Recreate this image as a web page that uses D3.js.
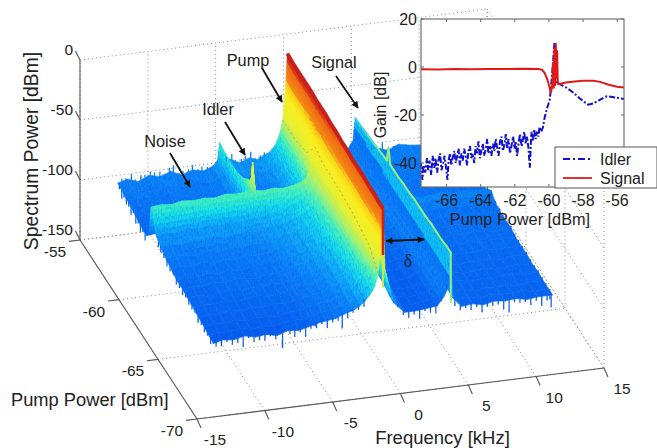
<!DOCTYPE html>
<html lang="en">
<head>
<meta charset="UTF-8">
<title>Spectrum power vs pump power</title>
<script src="https://cdn.jsdelivr.net/npm/d3@7/dist/d3.min.js"></script>
<style>
body{margin:0;background:#fff}
text{font-family:"Liberation Sans",Arial,sans-serif;fill:#222}
</style>
</head>
<body>
<svg id="chart" width="657" height="448"></svg>
<script>
// surface axes
var freqTicks=[-15,-10,-5,0,5,10,15];
var pumpTicks=[-70,-65,-60,-55];
var powerTicks=[-150,-100,-50,0];

// surface samples (dBm), back row first
var freqs=[-12.5,-11.8,-11,-10.2,-9.4,-8.6,-7.8,-7,-6.2,-5.5,-5.15,-5,-4.85,-4.2,-3.5,-2.8,-2.2,-1.7,-1.3,-0.9,-0.6,-0.35,-0.15,0,0.15,0.8,1.6,2.4,3.2,4,4.5,4.85,5,5.15,5.8,6.6,7.4,8.2,9,9.8,10.6,11.4,12.5];
var pumps=[-55.5,-56.3,-57.1,-57.9,-58.6,-59.2,-59.55,-59.75,-60,-60.4,-61,-61.7,-62.4,-63.1,-63.8,-64.5,-65.2,-65.9,-66.6,-67.2,-67.75];
var power=[
[-101,-99,-102,-98,-100,-97,-101,-98,-100,-97,-93,-78,-90,-93,-97,-94,-96,-93,-91,-86,-78,-66,-41,-11,-55,-90,-97,-100,-98,-100,-96,-90,-72,-94,-101,-99,-102,-98,-100,-101,-99,-102,-100],
[-103,-100,-102,-104,-100,-101,-103,-99,-102,-99,-95,-80,-94,-97,-100,-98,-98,-95,-92,-86,-78,-66,-42,-12,-56,-92,-99,-102,-100,-100,-96,-90,-71,-95,-103,-100,-103,-101,-102,-99,-103,-101,-102],
[-104,-106,-102,-104,-105,-101,-105,-103,-104,-100,-96,-81,-95,-100,-101,-100,-99,-96,-92,-86,-78,-66,-42,-12,-56,-92,-100,-103,-101,-101,-96,-90,-70,-96,-104,-102,-104,-101,-104,-103,-101,-104,-102],
[-106,-104,-107,-105,-103,-106,-104,-106,-105,-100,-95,-80,-95,-101,-103,-101,-100,-97,-92,-86,-77,-64,-41,-12,-55,-92,-101,-104,-102,-101,-96,-90,-69,-96,-105,-103,-105,-102,-104,-106,-103,-104,-105],
[-108,-106,-108,-105,-107,-105,-108,-106,-104,-99,-93,-77,-94,-102,-103,-102,-100,-97,-91,-85,-75,-62,-40,-12,-54,-91,-101,-104,-103,-101,-96,-89,-68,-96,-105,-104,-106,-103,-105,-104,-106,-105,-104],
[-108,-107,-105,-108,-106,-107,-104,-106,-105,-98,-90,-72,-92,-100,-102,-100,-98,-95,-90,-84,-72,-54,-35,-13,-52,-90,-100,-104,-103,-101,-95,-89,-67,-96,-105,-103,-106,-104,-105,-106,-104,-106,-105],
[-100,-101,-99,-100,-98,-99,-97,-98,-96,-92,-86,-70,-90,-92,-91,-89,-88,-85,-82,-74,-63,-48,-31,-13,-50,-88,-98,-103,-102,-100,-95,-88,-67,-95,-102,-100,-102,-100,-102,-103,-101,-102,-102],
[-79,-78,-79,-77,-78,-77,-78,-76,-77,-76,-76,-52,-76,-77,-76,-77,-76,-75,-73,-69,-61,-47,-30,-13,-48,-86,-96,-102,-102,-100,-95,-88,-54,-93,-98,-97,-99,-98,-97,-99,-98,-99,-100],
[-82,-83,-81,-82,-80,-81,-79,-80,-79,-79,-78,-76,-78,-78,-77,-78,-77,-76,-74,-70,-62,-48,-30,-13,-48,-87,-97,-102,-102,-100,-95,-88,-66,-94,-100,-99,-101,-99,-100,-101,-100,-101,-100],
[-96,-95,-96,-94,-95,-93,-94,-93,-93,-92,-92,-90,-92,-90,-88,-86,-84,-81,-78,-73,-64,-50,-31,-13,-49,-88,-98,-103,-102,-100,-95,-88,-66,-96,-103,-102,-104,-103,-102,-104,-103,-105,-104],
[-100,-99,-100,-98,-99,-97,-98,-97,-96,-97,-96,-97,-95,-94,-93,-90,-88,-85,-80,-74,-65,-51,-32,-14,-50,-89,-99,-103,-102,-100,-95,-88,-66,-96,-105,-104,-106,-104,-105,-106,-104,-106,-105],
[-103,-101,-102,-103,-100,-102,-100,-101,-99,-100,-98,-99,-97,-96,-95,-92,-89,-86,-81,-75,-65,-51,-32,-14,-50,-90,-100,-104,-103,-101,-95,-88,-65,-96,-105,-104,-106,-105,-104,-106,-105,-104,-106],
[-105,-103,-104,-102,-104,-102,-103,-101,-102,-100,-101,-100,-99,-97,-96,-93,-90,-86,-82,-75,-66,-52,-33,-15,-51,-90,-101,-105,-103,-101,-95,-88,-65,-97,-106,-104,-107,-105,-106,-104,-106,-107,-105],
[-107,-105,-106,-104,-105,-103,-105,-103,-102,-103,-101,-102,-100,-98,-97,-94,-91,-88,-83,-76,-67,-52,-33,-15,-52,-91,-102,-105,-104,-102,-95,-88,-64,-97,-106,-105,-107,-106,-105,-107,-106,-105,-107],
[-107,-106,-107,-105,-106,-104,-105,-106,-103,-104,-102,-103,-101,-99,-98,-95,-93,-89,-84,-77,-67,-53,-34,-16,-53,-91,-102,-106,-105,-102,-95,-88,-64,-98,-106,-105,-107,-106,-107,-105,-107,-106,-107],
[-108,-106,-108,-107,-105,-107,-105,-106,-104,-105,-103,-104,-103,-100,-99,-97,-94,-90,-85,-78,-68,-54,-34,-16,-54,-92,-103,-106,-105,-103,-96,-88,-64,-98,-107,-105,-108,-106,-107,-106,-108,-106,-107],
[-109,-107,-108,-106,-108,-107,-105,-107,-106,-105,-104,-105,-103,-102,-100,-98,-95,-91,-87,-80,-70,-56,-35,-16,-55,-93,-104,-107,-106,-103,-96,-88,-63,-98,-107,-106,-108,-107,-106,-108,-107,-106,-108],
[-110,-108,-109,-107,-109,-107,-108,-106,-107,-106,-105,-106,-104,-103,-101,-99,-96,-92,-88,-82,-72,-58,-35,-17,-56,-94,-105,-107,-106,-104,-96,-88,-63,-99,-107,-106,-108,-107,-108,-107,-106,-108,-107],
[-111,-109,-110,-108,-110,-108,-109,-109,-107,-107,-106,-107,-105,-103,-102,-100,-98,-94,-90,-83,-74,-60,-36,-17,-58,-95,-105,-107,-106,-104,-97,-89,-63,-99,-108,-106,-109,-107,-108,-107,-109,-107,-108],
[-112,-110,-111,-109,-111,-110,-111,-109,-108,-108,-107,-108,-106,-104,-103,-101,-99,-95,-91,-85,-78,-66,-38,-18,-62,-97,-106,-107,-106,-104,-97,-89,-62,-99,-108,-107,-109,-107,-108,-108,-107,-109,-108],
[-113,-111,-112,-110,-112,-111,-113,-110,-111,-109,-108,-109,-107,-106,-105,-102,-100,-97,-93,-88,-82,-72,-40,-18,-70,-98,-107,-107,-106,-105,-98,-90,-62,-100,-108,-107,-109,-107,-108,-107,-109,-108,-108]
];

// noise teeth on the edges of the surface: where they sit and how far they reach (dB)
var frontFreqs=[-12.3,-11.9,-11.5,-11.1,-10.7,-10.3,-9.9,-9.5,-9.1,-8.7,-8.3,-7.9,-7.4,-6.85,-6.5,-6.1,-5.7,-5.3,-4.9,-4.5,-4.1,-3.7,-3.3,-3,-2.6,-2.2,-1.8,-1.4,1.1,1.5,1.9,2.3,2.7,3.1,3.5,3.9,4.3,4.7,5.3,5.7,6.1,6.5,6.9,7.3,7.7,8.1,8.5,8.9,9.3,9.7,10.1,10.5,10.9,11.3,11.7,12.1,12.4];
var frontDepths=[3,5,2,4,3,9,2,4,3,5,2,3,11,3,5,2,8,3,4,2,6,3,2,12,4,2,3,5,4,2,5,3,7,2,4,6,3,2,7,3,2,5,3,6,2,4,3,7,10,3,4,2,5,3,8,4,10];
var leftPumps=[-55.7,-56,-56.3,-56.6,-56.9,-57.2,-57.5,-57.8,-58.1,-58.4,-58.7,-59,-60.7,-61,-61.4,-61.8,-62.2,-62.6,-63,-63.4,-63.8,-64.2,-64.6,-65,-65.4,-65.8,-66.2,-66.6,-67,-67.4];
var leftDepths=[3,6,2,5,3,7,2,6,3,5,2,6,3,4,2,5,3,2,4,3,5,2,4,3,2,5,3,4,2,5];
var rightPumps=[-58.9,-59.4,-59.9,-60.4,-60.9,-61.4,-61.9,-62.4,-62.9,-63.4,-63.9,-64.4,-64.9,-65.4,-65.9,-66.4,-66.9,-67.4];
var rightDepths=[3,2,4,2,5,3,2,4,3,6,2,3,5,2,4,6,3,7];
var backFreqs=[-12.2,-11.9,-11.5,-11.2,-10.8,-10.5,-10.1,-9.8,-9.4,-9.1,-8.7,-8.4,-8,-7.7,-7.3,-7,-6.6,-6.3,-5.9,-4.5,-4.1,-3.8,-3.4,-3.1,-2.7,-2.4,-2,-1.7,6.2,6.6,7,7.4,7.8];
var backHeights=[3,1,4,2,5,1,3,2,4,1,3,5,2,3,1,4,2,4,3,2,4,1,3,2,5,1,3,2,3,1,4,2,3];

// inset: gain against pump power
var gainXTicks=[-66,-64,-62,-60,-58,-56];
var gainYTicks=[-40,-20,0,20];
var idlerPump=[-67.5,-67.42,-67.35,-67.25,-67.15,-67.08,-67,-66.9,-66.82,-66.72,-66.65,-66.55,-66.48,-66.38,-66.3,-66.2,-66.12,-66.03,-65.95,-65.88,-65.8,-65.72,-65.65,-65.55,-65.47,-65.38,-65.3,-65.22,-65.13,-65.05,-64.97,-64.88,-64.8,-64.72,-64.63,-64.55,-64.47,-64.38,-64.3,-64.22,-64.13,-64.05,-63.97,-63.88,-63.8,-63.7,-63.62,-63.55,-63.45,-63.37,-63.28,-63.2,-63.12,-63.03,-62.95,-62.87,-62.78,-62.7,-62.6,-62.53,-62.45,-62.37,-62.28,-62.2,-62.1,-62.02,-61.95,-61.87,-61.78,-61.7,-61.6,-61.52,-61.45,-61.37,-61.28,-61.2,-61.12,-61.03,-60.95,-60.87,-60.78,-60.7,-60.62,-60.55,-60.45,-60.35,-60.25,-60.1,-59.95,-59.85,-59.75,-59.68,-59.6,-59.52,-59.45,-59.2,-58.95,-58.6,-58.2,-57.95,-57.7,-57.4,-57.1,-56.8,-56.6,-56.2,-55.6];
var idlerGain=[-40,-47,-41,-44,-38,-43,-39,-45,-37,-42,-38,-44,-39,-36,-43,-40,-37,-42,-47,-39,-36,-41,-38,-35,-40,-37,-34,-41,-36,-39,-34,-37,-41,-35,-33,-38,-36,-40,-33,-36,-31,-38,-35,-32,-37,-34,-30,-36,-33,-37,-32,-35,-30,-34,-37,-31,-29,-35,-32,-28,-34,-30,-36,-33,-29,-34,-31,-37,-32,-28,-33,-30,-27,-32,-29,-34,-42,-27,-31,-26,-30,-27,-29,-25,-27,-25,-21,-17,-13.6,-6,3,10,2,-7,-6.7,-7.8,-8.7,-10.5,-13,-14.5,-15.7,-15.2,-14,-12.8,-12.2,-12.6,-13.3];
var signalPump=[-67.5,-66.5,-65.5,-64.5,-63.5,-62.5,-61.5,-60.6,-60.4,-60.25,-60.1,-59.98,-59.88,-59.8,-59.76,-59.72,-59.68,-59.64,-59.6,-59.56,-59.52,-59.48,-59.4,-59.2,-59,-58.5,-58,-57.4,-57,-56.5,-56,-55.6];
var signalGain=[-0.9,-1,-0.8,-0.9,-0.8,-0.8,-0.7,-0.8,-1.2,-2.5,-5,-8,-10.8,-7,2,-9,8,-8,10,-5,7,-7,-7.2,-6.8,-6.5,-6,-5.7,-5.7,-6.2,-7.4,-8.2,-8.5];
var legendNames=["Idler","Signal"];

var svg=d3.select('#chart');

// projection of the 3D box: each data axis moves the pixel along its own direction
var fx=d3.scaleLinear().domain([-15,15]).range([0,407]);
var fy=d3.scaleLinear().domain([-15,15]).range([0,-51]);
var px=d3.scaleLinear().domain([-70,-55]).range([0,-117]);
var py=d3.scaleLinear().domain([-70,-55]).range([0,-179]);
var pz=d3.scaleLinear().domain([-150,0]).range([0,-180]);
function project(f,p,z){
	return [197+fx(f)+px(p), 419+fy(f)+py(p)+pz(z)];
}

// colours picked along the height of the surface
var colour=d3.scaleLinear()
	.domain([-116,-108,-100,-92,-85,-78,-70,-60,-45,-36,-33,-20,-18,-13,-10])
	.range(['#0050e8','#0868f2','#0a84f8','#0eb4f8','#14e0e8','#40f0c0','#a0f070','#e8f030','#f8ee20','#f8d016','#f48a14','#ef6a14','#dc3a18','#c01e14','#b01810'])
	.clamp(true);

// grid
var grid=svg.append('g').attr('fill','none').attr('stroke','#8a8a8a').attr('stroke-width',1).attr('stroke-dasharray','1 3');
function seg(a,b){
	grid.append('line').attr('x1',a[0]).attr('y1',a[1]).attr('x2',b[0]).attr('y2',b[1]);
}
freqTicks.forEach(function(f){
	seg(project(f,-70,-150),project(f,-55,-150));
	seg(project(f,-55,-150),project(f,-55,0));
});
pumpTicks.forEach(function(p){
	seg(project(-15,p,-150),project(15,p,-150));
	seg(project(15,p,-150),project(15,p,0));
});
powerTicks.forEach(function(z){
	seg(project(-15,-55,z),project(15,-55,z));
	seg(project(15,-55,z),project(15,-70,z));
});

// box edges
var box=svg.append('g').attr('stroke','#555').attr('stroke-width',1.1).attr('fill','none');
function edge(a,b){
	box.append('line').attr('x1',a[0]).attr('y1',a[1]).attr('x2',b[0]).attr('y2',b[1]);
}
edge(project(-15,-55,0),project(-15,-55,-150));
edge(project(-15,-55,-150),project(-15,-70,-150));
edge(project(-15,-70,-150),project(15,-70,-150));
powerTicks.forEach(function(z){
	var a=project(-15,-55,z);
	edge(a,[a[0]-4.5,a[1]-9]);
	svg.append('text').attr('x',73).attr('y',a[1]-5.5).attr('text-anchor','end').attr('font-size',15.5).text(z);
});
pumpTicks.forEach(function(p){
	var a=project(-15,p,-150);
	edge(a,[a[0]-11,a[1]+1.4]);
	svg.append('text').attr('x',a[0]-25).attr('y',a[1]+17).attr('text-anchor','middle').attr('font-size',15.5).text(p);
});
freqTicks.forEach(function(f){
	var a=project(f,-70,-150);
	edge(a,[a[0]+4,a[1]+9]);
	svg.append('text').attr('x',a[0]+18).attr('y',a[1]+26).attr('text-anchor','middle').attr('font-size',15.5).text(f);
});

// soften the facets; faint specks only where the surface is blue
var defs=svg.append('defs');
var soft=defs.append('filter').attr('id','soft').attr('filterUnits','userSpaceOnUse')
	.attr('x',0).attr('y',0).attr('width',657).attr('height',448)
	.attr('color-interpolation-filters','sRGB');
soft.append('feGaussianBlur').attr('in','SourceGraphic').attr('stdDeviation',0.6).attr('result','b');
soft.append('feColorMatrix').attr('in','b').attr('type','matrix')
	.attr('values','0 0 0 0 0 0 0 0 0 0 0 0 0 0 0 -1.2 0 1.2 0 -0.15').attr('result','blueOnly');
soft.append('feTurbulence').attr('type','fractalNoise').attr('baseFrequency','0.75 0.3').attr('numOctaves',2).attr('seed',4).attr('result','t');
soft.append('feColorMatrix').attr('in','t').attr('type','matrix')
	.attr('values','0 0 0 0 0 0 0 0 0 0.28 0 0 0 0 0.9 0.8 0 0 0 -0.34').attr('result','speck');
soft.append('feComposite').attr('in','speck').attr('in2','blueOnly').attr('operator','in').attr('result','clip');
var merged=soft.append('feMerge');
merged.append('feMergeNode').attr('in','b');
merged.append('feMergeNode').attr('in','clip');

// surface, painted back to front and right to left
var surface=svg.append('g').attr('filter','url(#soft)');
function heightAt(r,c,u,v){
	var top=power[r][c]+(power[r][c+1]-power[r][c])*u;
	var bot=power[r+1][c]+(power[r+1][c+1]-power[r+1][c])*u;
	return top+(bot-top)*v;
}
var signalIndex=freqs.indexOf(5);
// tint of a facet: the flanks of the signal are a thin pale band, only the ridge is green
function tintHeight(c,h){
	if(c===signalIndex) return Math.min(h,-96);
	if(c===signalIndex-1) return h>-80?-90:-103;
	if(c===signalIndex-2) return Math.min(h,-102);
	if(c>=signalIndex-6&&c<signalIndex-2) return h-4;
	return h;
}
var facets=[];
for(var r=0;r<pumps.length-1;r++){
	for(var c=freqs.length-2;c>=0;c--){
		var alongF=Math.max(Math.abs(power[r][c+1]-power[r][c]),Math.abs(power[r+1][c+1]-power[r+1][c]));
		var alongP=Math.max(Math.abs(power[r+1][c]-power[r][c]),Math.abs(power[r+1][c+1]-power[r][c+1]));
		var nf=Math.min(24,Math.ceil(alongF/4)||1);
		var np=Math.min(12,Math.ceil(alongP/4)||1);
		for(var j=0;j<np;j++){
			for(var i=nf-1;i>=0;i--){
				var u0=i/nf,u1=(i+1)/nf,v0=j/np,v1=(j+1)/np;
				var f0=freqs[c]+(freqs[c+1]-freqs[c])*u0,f1=freqs[c]+(freqs[c+1]-freqs[c])*u1;
				var p0=pumps[r]+(pumps[r+1]-pumps[r])*v0,p1=pumps[r]+(pumps[r+1]-pumps[r])*v1;
				facets.push({
					pts:[project(f0,p0,heightAt(r,c,u0,v0)),project(f1,p0,heightAt(r,c,u1,v0)),project(f1,p1,heightAt(r,c,u1,v1)),project(f0,p1,heightAt(r,c,u0,v1))],
					z:tintHeight(c,heightAt(r,c,(u0+u1)/2,(v0+v1)/2))
				});
			}
		}
	}
}
surface.selectAll('path.facet').data(facets).enter().append('path')
	.attr('class','facet')
	.attr('d',function(d){return 'M'+d.pts.join('L')+'Z';})
	.attr('fill',function(d){return colour(d.z);})
	.attr('stroke',function(d){return colour(d.z);})
	.attr('stroke-width',0.6);

// teeth along the edges
function nearest(list,v){
	return d3.leastIndex(list,function(a,b){return Math.abs(a-v)-Math.abs(b-v);});
}
function teeth(fs,ps,amounts,sign,col){
	var n=Math.max(fs.length,ps.length);
	d3.range(n).forEach(function(i){
		var f=fs.length>1?fs[i]:fs[0],p=ps.length>1?ps[i]:ps[0];
		var z=power[nearest(pumps,p)][nearest(freqs,f)];
		var a=project(f,p,z-sign*1.5),b=project(f,p,z+sign*amounts[i]);
		surface.append('line').attr('x1',a[0]).attr('y1',a[1]).attr('x2',b[0]).attr('y2',b[1])
			.attr('stroke',col).attr('stroke-width',1.2);
	});
}
var front=pumps.length-1;
teeth(frontFreqs,[pumps[front]],frontDepths,-1,'#0a60e8');
teeth([freqs[0]],leftPumps,leftDepths,-1,'#0a6cf0');
teeth([freqs[freqs.length-1]],rightPumps,rightDepths,-1,'#0a66ec');
teeth(backFreqs,[pumps[0]],backHeights,1,'#0a84f4');

// ridges of the pump and the signal
var pumpCol=freqs.indexOf(0),signalCol=signalIndex;
var ridge=d3.line();
surface.append('path')
	.attr('d',ridge(pumps.map(function(p,i){return project(-0.35,p,power[i][freqs.indexOf(-0.35)]);})))
	.attr('fill','none').attr('stroke','#e89a20').attr('stroke-width',1).attr('stroke-dasharray','2 3');
surface.append('path')
	.attr('d',ridge(pumps.map(function(p,i){return project(0,p,power[i][pumpCol]);})))
	.attr('fill','none').attr('stroke','#c8201a').attr('stroke-width',3.8);
surface.append('path')
	.attr('d',ridge([project(0,pumps[front],power[front][pumpCol]),project(0,pumps[front],-57)]))
	.attr('fill','none').attr('stroke','#d0201a').attr('stroke-width',2.6);
surface.append('path')
	.attr('d',ridge([project(0,pumps[front],-57),project(0,pumps[front],-84)]))
	.attr('fill','none').attr('stroke','#d8e83a').attr('stroke-width',1.8);
var signalTint=d3.scaleLinear().domain([-55.5,-57.5,-60]).range(['#38d8e0','#70e8a8','#94ee7c']).clamp(true);
d3.range(pumps.length-1).forEach(function(i){
	surface.append('path')
		.attr('d',ridge([project(5,pumps[i],power[i][signalCol]),project(5,pumps[i+1],power[i+1][signalCol])]))
		.attr('fill','none').attr('stroke',signalTint(pumps[i])).attr('stroke-width',2).attr('stroke-linecap','round');
});
surface.append('path')
	.attr('d',ridge([project(5,pumps[front],power[front][signalCol]),project(5,pumps[front],-104)]))
	.attr('fill','none').attr('stroke','#94ee7c').attr('stroke-width',2);

// axis titles
svg.append('text').attr('transform','translate(38,151) rotate(-90)').attr('text-anchor','middle').attr('font-size',19.3).text('Spectrum Power [dBm]');
svg.append('text').attr('x',11).attr('y',406).attr('font-size',18.3).text('Pump Power [dBm]');
svg.append('text').attr('x',442.5).attr('y',444).attr('text-anchor','middle').attr('font-size',18.5).text('Frequency [kHz]');

// annotations
var notes=[
	{t:'Pump',x:248,y:66,a:[262,68,282,102]},
	{t:'Signal',x:334,y:68,a:[336,76,358,108]},
	{t:'Idler',x:218,y:115,a:[225,122,245,155]},
	{t:'Noise',x:165,y:147,a:[170,153,190,187]}
];
defs.append('marker').attr('id','head').attr('viewBox','0 0 10 10').attr('refX',9).attr('refY',5)
	.attr('markerWidth',9).attr('markerHeight',7).attr('orient','auto-start-reverse').attr('markerUnits','userSpaceOnUse')
	.append('path').attr('d','M0 0L10 5L0 10Z').attr('fill','#111');
notes.forEach(function(n){
	svg.append('text').attr('x',n.x).attr('y',n.y).attr('text-anchor','middle').attr('font-size',16.3).text(n.t);
	svg.append('line').attr('x1',n.a[0]).attr('y1',n.a[1]).attr('x2',n.a[2]).attr('y2',n.a[3])
		.attr('stroke','#111').attr('stroke-width',1.8).attr('marker-end','url(#head)');
});
svg.append('line').attr('x1',386).attr('y1',241).attr('x2',424).attr('y2',239.5)
	.attr('stroke','#111').attr('stroke-width',1.8).attr('marker-start','url(#head)').attr('marker-end','url(#head)');
svg.append('text').attr('x',408).attr('y',267).attr('text-anchor','middle').attr('font-size',18)
	.style('font-family','"Liberation Serif",serif').text('δ');

// inset
var insetLeft=421,insetRight=624,insetTop=19,insetBottom=187;
var gx=d3.scaleLinear().domain([-67.5,-55.6]).range([insetLeft,insetRight]);
var gy=d3.scaleLinear().domain([-50,20]).range([insetBottom,insetTop]);
var inset=svg.append('g');
inset.append('rect').attr('x',insetLeft).attr('y',insetTop).attr('width',insetRight-insetLeft).attr('height',insetBottom-insetTop)
	.attr('fill','#fff');
inset.append('path')
	.attr('d',d3.line().x(function(d){return gx(d);}).y(function(d,i){return gy(idlerGain[i]);})(idlerPump))
	.attr('fill','none').attr('stroke','#1010d0').attr('stroke-width',2).attr('stroke-dasharray','6 2 2 2');
inset.append('path')
	.attr('d',d3.line().x(function(d){return gx(d);}).y(function(d,i){return gy(signalGain[i]);})(signalPump))
	.attr('fill','none').attr('stroke','#e01818').attr('stroke-width',2);
inset.append('rect').attr('x',insetLeft).attr('y',insetTop).attr('width',insetRight-insetLeft).attr('height',insetBottom-insetTop)
	.attr('fill','none').attr('stroke','#666').attr('stroke-width',1.1);
gainXTicks.forEach(function(t){
	inset.append('line').attr('x1',gx(t)).attr('x2',gx(t)).attr('y1',insetBottom).attr('y2',insetBottom-3).attr('stroke','#666');
	inset.append('line').attr('x1',gx(t)).attr('x2',gx(t)).attr('y1',insetTop).attr('y2',insetTop+3).attr('stroke','#666');
	inset.append('text').attr('x',gx(t)).attr('y',206).attr('text-anchor','middle').attr('font-size',16).text(t);
});
gainYTicks.forEach(function(t){
	inset.append('line').attr('y1',gy(t)).attr('y2',gy(t)).attr('x1',insetLeft).attr('x2',insetLeft+3).attr('stroke','#666');
	inset.append('line').attr('y1',gy(t)).attr('y2',gy(t)).attr('x1',insetRight).attr('x2',insetRight-3).attr('stroke','#666');
	inset.append('text').attr('x',417).attr('y',gy(t)+5.5).attr('text-anchor','end').attr('font-size',16).text(t);
});
inset.append('text').attr('x',520).attr('y',225).attr('text-anchor','middle').attr('font-size',16.3).text('Pump Power [dBm]');
inset.append('text').attr('transform','translate(386,105) rotate(-90)').attr('text-anchor','middle').attr('font-size',16).text('Gain [dB]');

// legend
var legendColours=['#1010d0','#e01818'],legendDash=['7 3 2 3',null],legendY=[159,178];
inset.append('rect').attr('x',555).attr('y',147).attr('width',102).attr('height',41).attr('fill','#fff').attr('stroke','#666').attr('stroke-width',1.1);
legendNames.forEach(function(n,i){
	inset.append('line').attr('x1',563).attr('x2',592).attr('y1',legendY[i]).attr('y2',legendY[i])
		.attr('stroke',legendColours[i]).attr('stroke-width',1.8).attr('stroke-dasharray',legendDash[i]);
	inset.append('text').attr('x',600).attr('y',legendY[i]+5.5).attr('font-size',16).text(n);
});
</script>
</body>
</html>
